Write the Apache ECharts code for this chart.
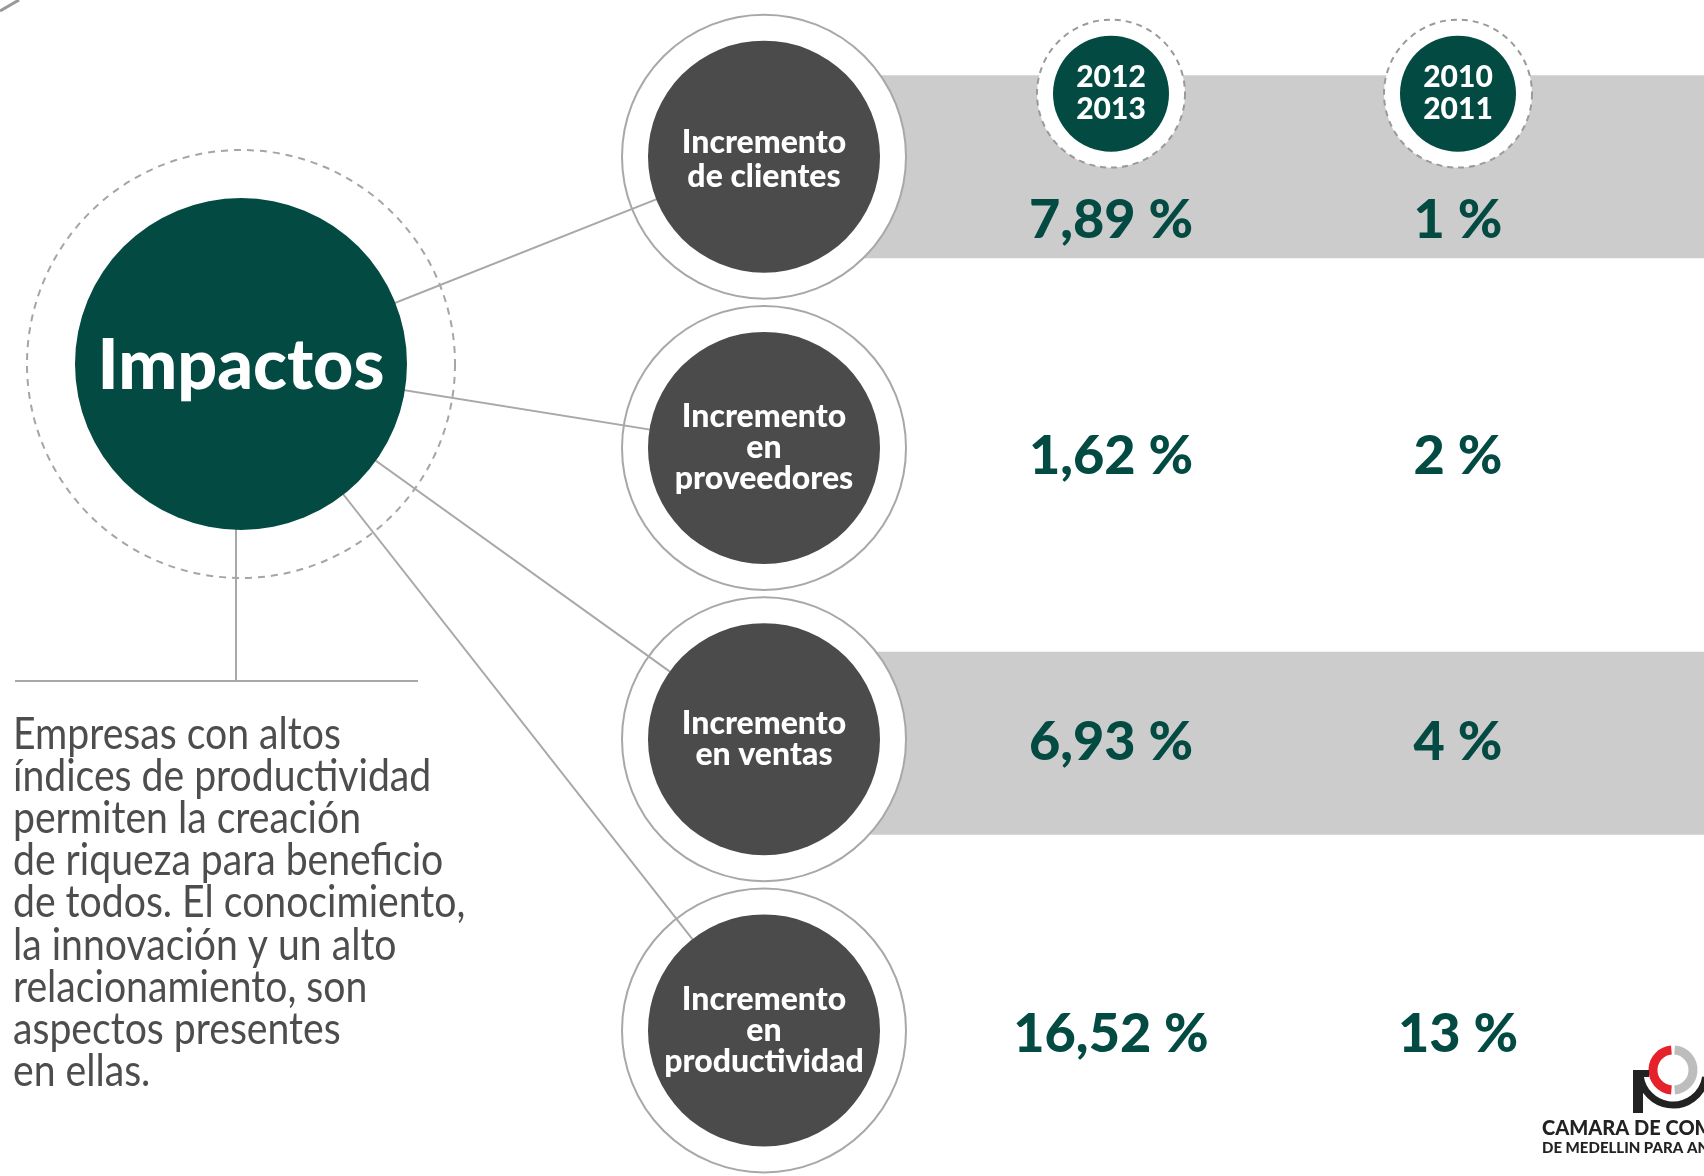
<!DOCTYPE html>
<html>
<head>
<meta charset="utf-8">
<script src="https://cdn.jsdelivr.net/npm/echarts@6/dist/echarts.min.js"></script>
<style>
  html, body { margin: 0; padding: 0; background: #fff; }
  #chart { width: 1704px; height: 1176px; }
</style>
</head>
<body>
<div id="chart"></div>
<script>
// datos
const periodos = ["2012\n2013", "2010\n2011"];
const indicadores = [
  "Incremento\nde clientes",
  "Incremento\nen\nproveedores",
  "Incremento\nen ventas",
  "Incremento\nen\nproductividad",
];
const valores20122013 = [7.89, 1.62, 6.93, 16.52];
const valores20102011 = [1, 2, 4, 13];
const filasSombreadas = [0, 2];
const titulo = "Impactos";
const parrafo = [
  "Empresas con altos",
  "índices de productividad",
  "permiten la creación",
  "de riqueza para beneficio",
  "de todos. El conocimiento,",
  "la innovación y un alto",
  "relacionamiento, son",
  "aspectos presentes",
  "en ellas.",
];

// colores y disposicion
const VERDE = "#034b42";
const GRIS = "#4b4b4b";
const BANDA = "#cccccc";
const LINEA = "#a8a8a8";
const HUB = [241, 364];
const desplazaValor = [64, 9, 3, 4];
const desplazaBanda = { 0: 10, 2: 4 };

const formato = (v) =>
  (Number.isInteger(v) ? String(v) : v.toFixed(2).replace(".", ",")) + " %";

const chart = echarts.init(document.getElementById("chart"));

const datosValores = [];
[valores20122013, valores20102011].forEach((serie, j) => {
  serie.forEach((v, i) => {
    datosValores.push({
      value: [j + 1, i, v],
      label: { offset: [0, desplazaValor[i]] },
    });
  });
});

chart.setOption({
  animation: false,
  grid: { left: 590.5, width: 1041, top: 11, height: 1180 },
  xAxis: { type: "category", data: ["", ...periodos], show: false },
  yAxis: { type: "category", data: indicadores, inverse: true, show: false },
  series: [
    {
      // bandas grises
      type: "custom",
      z: 1,
      silent: true,
      data: filasSombreadas.map((f) => [0, f]),
      renderItem(params, api) {
        const fila = api.value(1);
        const p = api.coord([0, fila]);
        const h = 183;
        return {
          type: "rect",
          shape: { x: p[0], y: p[1] - h / 2 + desplazaBanda[fila], width: api.getWidth() - p[0], height: h },
          style: { fill: BANDA },
        };
      },
    },
    {
      // anillo exterior
      type: "scatter",
      z: 2,
      silent: true,
      symbolSize: 284,
      itemStyle: { color: "#fff", borderColor: LINEA, borderWidth: 2, opacity: 1 },
      data: indicadores.map((_, i) => [0, i]),
    },
    {
      // conectores desde Impactos
      type: "custom",
      z: 3,
      silent: true,
      data: indicadores.map((_, i) => [0, i]),
      renderItem(params, api) {
        const p = api.coord([0, api.value(1)]);
        return {
          type: "line",
          shape: { x1: HUB[0], y1: HUB[1], x2: p[0], y2: p[1] },
          style: { stroke: LINEA, lineWidth: 2 },
        };
      },
    },
    {
      // circulos de indicadores
      type: "scatter",
      z: 4,
      silent: true,
      symbolSize: 232,
      itemStyle: { color: GRIS, opacity: 1 },
      label: {
        show: true,
        position: "inside",
        formatter: "{b}",
        color: "#fff",
        opacity: 1,
        fontFamily: "Lato",
        fontWeight: 900,
        fontSize: 32,
        lineHeight: 31,
        align: "center",
      },
      data: indicadores.map((n, i) => ({
        name: n,
        value: [0, i],
        label: i === 0 ? { lineHeight: 34, offset: [0, 3] } : {},
      })),
    },
    {
      // anillo punteado de periodos
      type: "scatter",
      z: 4,
      silent: true,
      symbolSize: 148,
      symbolOffset: [0, -63],
      itemStyle: { color: "#fff", borderColor: "#9a9a9a", borderWidth: 2, borderType: [6, 5], opacity: 1 },
      data: periodos.map((_, j) => [j + 1, 0]),
    },
    {
      // circulos de periodos
      type: "scatter",
      z: 5,
      silent: true,
      symbolSize: 116,
      symbolOffset: [0, -63],
      itemStyle: { color: VERDE, opacity: 1 },
      label: {
        show: true,
        position: "inside",
        formatter: "{b}",
        color: "#fff",
        opacity: 1,
        fontFamily: "Lato",
        fontWeight: 900,
        fontSize: 30,
        lineHeight: 32,
        align: "center",
      },
      data: periodos.map((p, j) => ({ name: p, value: [j + 1, 0] })),
    },
    {
      // valores
      type: "scatter",
      z: 5,
      silent: true,
      symbolSize: 1,
      itemStyle: { color: "rgba(0,0,0,0)", opacity: 1 },
      label: {
        show: true,
        position: "inside",
        formatter: (p) => formato(p.value[2]),
        color: VERDE,
        opacity: 1,
        fontFamily: "Lato",
        fontWeight: 900,
        fontSize: 54,
      },
      data: datosValores,
    },
  ],
  graphic: [
    {
      type: "line",
      z: 100,
      shape: { x1: 0, y1: 11, x2: 19, y2: 0 },
      style: { stroke: "#999", lineWidth: 3 },
    },
    {
      type: "circle",
      z: 1,
      shape: { cx: HUB[0], cy: HUB[1], r: 214 },
      style: { fill: "none", stroke: "#a5a5a5", lineWidth: 2, lineDash: [7, 6] },
    },
    {
      type: "line",
      z: 1,
      shape: { x1: 236, y1: 520, x2: 236, y2: 681 },
      style: { stroke: LINEA, lineWidth: 2 },
    },
    {
      type: "line",
      z: 1,
      shape: { x1: 15, y1: 681, x2: 418, y2: 681 },
      style: { stroke: LINEA, lineWidth: 2 },
    },
    {
      type: "circle",
      z: 100,
      shape: { cx: HUB[0], cy: HUB[1], r: 166 },
      style: { fill: VERDE },
    },
    {
      type: "text",
      z: 101,
      x: HUB[0],
      y: HUB[1] + 2,
      style: {
        text: titulo,
        fill: "#fff",
        fontFamily: "Lato",
        fontWeight: 900,
        fontSize: 70,
        align: "center",
        verticalAlign: "middle",
      },
    },
    {
      type: "text",
      z: 100,
      x: 13,
      y: 713,
      scaleX: 0.87,
      style: {
        text: parrafo.join("\n"),
        fill: "#4d4d4d",
        fontFamily: "Lato",
        fontWeight: 400,
        fontSize: 45,
        lineHeight: 42.2,
        verticalAlign: "top",
      },
    },
    // logo
    {
      type: "arc",
      z: 100,
      shape: { cx: 1673, cy: 1070, r: 20, startAngle: Math.PI / 2 + 0.08, endAngle: (3 * Math.PI) / 2 - 0.08 },
      style: { stroke: "#e5212b", lineWidth: 9, fill: "none" },
    },
    {
      type: "arc",
      z: 100,
      shape: { cx: 1673, cy: 1070, r: 20, startAngle: -Math.PI / 2 + 0.08, endAngle: Math.PI / 2 - 0.08 },
      style: { stroke: "#bdbdbd", lineWidth: 9, fill: "none" },
    },
    {
      type: "arc",
      z: 100,
      shape: { cx: 1673, cy: 1072, r: 33, startAngle: 0.15, endAngle: Math.PI - 0.15 },
      style: { stroke: "#222", lineWidth: 7, fill: "none" },
    },
    {
      type: "rect",
      z: 100,
      shape: { x: 1633, y: 1070, width: 10, height: 43 },
      style: { fill: "#222" },
    },
    {
      type: "rect",
      z: 100,
      shape: { x: 1633, y: 1070, width: 16, height: 7 },
      style: { fill: "#222" },
    },
    {
      type: "text",
      z: 100,
      x: 1542,
      y: 1119,
      style: {
        text: "CAMARA DE COMERCIO",
        fill: "#222",
        fontFamily: "Lato",
        fontWeight: 900,
        fontSize: 20,
        verticalAlign: "top",
      },
    },
    {
      type: "text",
      z: 100,
      x: 1542,
      y: 1141,
      style: {
        text: "DE MEDELLIN PARA ANTIOQUIA",
        fill: "#222",
        fontFamily: "Lato",
        fontWeight: 900,
        fontSize: 15,
        verticalAlign: "top",
      },
    },
  ],
});
</script>
</body>
</html>
